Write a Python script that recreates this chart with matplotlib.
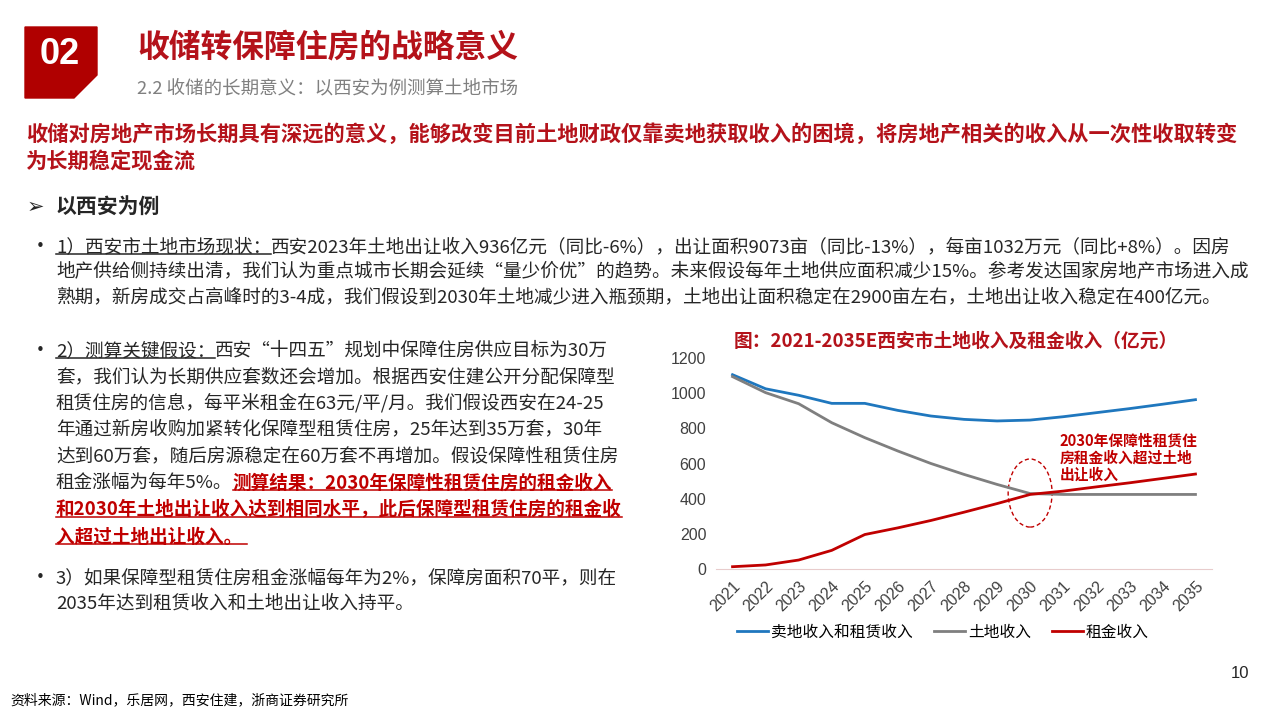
import matplotlib.pyplot as plt
from matplotlib.patches import Polygon, Ellipse
from matplotlib.lines import Line2D

plt.rcParams['font.family'] = ['Noto Sans CJK SC', 'DejaVu Sans']

# chart data (亿元)
years = list(range(2021, 2036))
year_labels = [str(y) for y in years]
total_income = [1105, 1025, 988, 942, 942, 902, 870, 851, 842, 847, 866, 889, 912, 937, 963]
land_income = [1094, 1003, 940, 832, 747, 671, 600, 538, 481, 429, 424, 424, 424, 424, 424]
rent_income = [13, 23, 51, 106, 196, 234, 276, 323, 372, 424, 443, 467, 490, 515, 540]
series_names = ["卖地收入和租赁收入", "土地收入", "租金收入"]
y_ticks = [0, 200, 400, 600, 800, 1000, 1200]

RED = "#B4121A"
BLUE = "#1F77BE"
GRAY = "#7F7F7F"
TXT = "#262626"
W, H = 1280, 720

fig = plt.figure(figsize=(12.8, 7.2), dpi=100)
renderer = fig.canvas.get_renderer()


def px(x, y):
    # pixel position (from top-left) -> figure fraction
    return x / W, 1 - y / H


def write_line(x, y, runs, size=13.4):
    for text, color, weight, underline in runs:
        t = fig.text(*px(x, y), text, fontsize=size, color=color,
                     fontweight=weight, va="center", ha="left")
        bb = t.get_window_extent(renderer)
        if underline:
            uy = bb.y0 + 0.12 * bb.height
            fig.add_artist(Line2D([bb.x0 / W, bb.x1 / W], [uy / H, uy / H],
                                  color=color, lw=1.1, transform=fig.transFigure))
        x = bb.x1


# header block
box = [px(25, 27), px(97, 27), px(97, 75), px(74, 98), px(25, 98)]
fig.add_artist(Polygon(box, closed=True, color="#B00000", transform=fig.transFigure))
fig.text(*px(60, 54), "02", color="white", fontsize=26, fontweight="bold",
         family="Liberation Sans", ha="center", va="center")
fig.text(*px(137, 47), "收储转保障住房的战略意义", color=RED, fontsize=22.9,
         fontweight="bold", va="center")
fig.text(*px(137, 88), "2.2 收储的长期意义：以西安为例测算土地市场", color="#808080",
         fontsize=13.3, va="center")

fig.text(*px(26, 134), "收储对房地产市场长期具有深远的意义，能够改变目前土地财政仅靠卖地获取收入的困境，将房地产相关的收入从一次性收取转变",
         color=RED, fontsize=15.3, fontweight="bold", va="center")
fig.text(*px(26, 162), "为长期稳定现金流", color=RED, fontsize=15.3, fontweight="bold", va="center")

fig.text(*px(27, 207), "➢", color=TXT, fontsize=15, va="center")
fig.text(*px(56, 207), "以西安为例", color=TXT, fontsize=15, fontweight="bold", va="center")

# bullet dots
for yb in [247, 351, 578]:
    fig.text(*px(30, yb), "•", color=TXT, fontsize=15, va="center")

# bullet 1
write_line(56, 247, [("1）西安市土地市场现状：", TXT, "normal", True),
                     ("西安2023年土地出让收入936亿元（同比-6%），出让面积9073亩（同比-13%），每亩1032万元（同比+8%）。因房", TXT, "normal", False)])
write_line(56, 272, [("地产供给侧持续出清，我们认为重点城市长期会延续“量少价优”的趋势。未来假设每年土地供应面积减少15%。参考发达国家房地产市场进入成", TXT, "normal", False)])
write_line(56, 297, [("熟期，新房成交占高峰时的3-4成，我们假设到2030年土地减少进入瓶颈期，土地出让面积稳定在2900亩左右，土地出让收入稳定在400亿元。", TXT, "normal", False)])

# bullet 2
write_line(56, 351, [("2）测算关键假设：", TXT, "normal", True),
                     ("西安“十四五”规划中保障住房供应目标为30万", TXT, "normal", False)])
write_line(56, 377, [("套，我们认为长期供应套数还会增加。根据西安住建公开分配保障型", TXT, "normal", False)])
write_line(56, 403, [("租赁住房的信息，每平米租金在63元/平/月。我们假设西安在24-25", TXT, "normal", False)])
write_line(56, 429, [("年通过新房收购加紧转化保障型租赁住房，25年达到35万套，30年", TXT, "normal", False)])
write_line(56, 456, [("达到60万套，随后房源稳定在60万套不再增加。假设保障性租赁住房", TXT, "normal", False)])
write_line(56, 483, [("租金涨幅为每年5%。", TXT, "normal", False),
                     ("测算结果：2030年保障性租赁住房的租金收入", "#C00000", "bold", True)])
write_line(56, 510, [("和2030年土地出让收入达到相同水平，此后保障型租赁住房的租金收", "#C00000", "bold", True)])
write_line(56, 537, [("入超过土地出让收入。 ", "#C00000", "bold", True)])

# bullet 3
write_line(56, 578, [("3）如果保障型租赁住房租金涨幅每年为2%，保障房面积70平，则在", TXT, "normal", False)])
write_line(56, 604, [("2035年达到租赁收入和土地出让收入持平。", TXT, "normal", False)])

# chart
fig.text(*px(956, 341), "图：2021-2035E西安市土地收入及租金收入（亿元）", color=RED,
         fontsize=13.5, fontweight="bold", ha="center", va="center")

ax = fig.add_axes([716 / W, 1 - 569 / H, (1212 - 716) / W, (569 - 358) / H])
ax.plot(years, total_income, color=BLUE, lw=2, label=series_names[0])
ax.plot(years, land_income, color=GRAY, lw=2, label=series_names[1])
ax.plot(years, rent_income, color="#C00000", lw=2, label=series_names[2])
ax.set_xlim(2020.5, 2035.5)
ax.set_ylim(0, 1200)
ax.set_yticks(y_ticks)
ax.set_yticklabels([str(v) for v in y_ticks], family="Liberation Sans", fontsize=11.5, color="#404040")
ax.set_xticks(years)
ax.set_xticklabels(year_labels, rotation=45, ha="right", rotation_mode="anchor",
                   family="Liberation Sans", fontsize=11.5, color="#404040")
for s in ["top", "right", "left"]:
    ax.spines[s].set_visible(False)
ax.spines["bottom"].set_color("#E8CCCC")
ax.tick_params(length=0, pad=7)
ax.patch.set_alpha(0)

ax.add_patch(Ellipse((2030, 432), width=1.33, height=387, fill=False,
                     ls=(0, (3, 2)), ec="#C00000", lw=1))
ax.text(2030.9, 778, "2030年保障性租赁住\n房租金收入超过土地\n出让收入", color="#C00000",
        fontsize=10.6, fontweight="bold", va="top", linespacing=1.1)

fig.legend(loc="center", bbox_to_anchor=px(943, 632), ncol=3, frameon=False,
           handlelength=2, columnspacing=1.3, handletextpad=0.2, fontsize=11.3)

fig.text(*px(1240, 673), "10", color=TXT, fontsize=12, family="Liberation Sans",
         ha="center", va="center")
fig.text(*px(10, 700), "资料来源：Wind，乐居网，西安住建，浙商证券研究所", color="#000000",
         fontsize=10, va="center")

fig.savefig("out.png", dpi=100)
